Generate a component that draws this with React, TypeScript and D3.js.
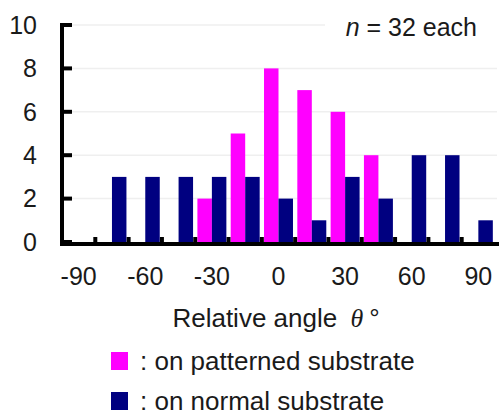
import * as d3 from 'd3';
import React from 'react';

// histogram of relative angle, 15 degree bins
const bins = [-90, -75, -60, -45, -30, -15, 0, 15, 30, 45, 60, 75, 90];
const patterned = [0, 0, 0, 0, 2, 5, 8, 7, 6, 4, 0, 0, 0];
const normal = [0, 3, 3, 3, 3, 3, 2, 1, 3, 2, 4, 4, 1];
const yTicks = [0, 2, 4, 6, 8, 10];
const xTickLabels = [-90, -60, -30, 0, 30, 60, 90];
const seriesKeys = ['patterned', 'normal'];
const seriesColors = ['#ff00ff', '#000080'];
const legendLabels = [': on patterned substrate', ': on normal substrate'];

export default function App() {
    const width = 500;
    const height = 416;
    const font = 'Arial, "Liberation Sans", sans-serif';
    const ink = '#1a1a1a';

    const x = d3.scaleBand<number>()
        .domain(bins)
        .range([62, 495])
        .paddingInner(0)
        .paddingOuter(0);

    const xInner = d3.scaleBand<string>()
        .domain(seriesKeys)
        .range([0, x.bandwidth()])
        .paddingInner(0)
        .paddingOuter(0.15);

    const y = d3.scaleLinear().domain([0, 10]).range([242, 25]);

    const values = [patterned, normal];
    const boundaries = bins.slice(1).map(b => (x(b) as number));

    return (
        <svg width={width} height={height} style={{ position: 'absolute', left: 0, top: 0, background: '#fff' }}>
            {/* faint grid */}
            {yTicks.filter(t => t > 0).map(t => (
                <line key={'g' + t} x1={64} x2={497} y1={y(t)} y2={y(t)} stroke="#efefef" strokeWidth={1.5} />
            ))}

            {/* bars */}
            {seriesKeys.map((k, si) => (
                <g key={k} fill={seriesColors[si]}>
                    {bins.map((b, i) => values[si][i] > 0 && (
                        <rect
                            key={b}
                            x={(x(b) as number) + (xInner(k) as number)}
                            y={y(values[si][i])}
                            width={xInner.bandwidth()}
                            height={y(0) - y(values[si][i])}
                        />
                    ))}
                </g>
            ))}

            {/* y axis */}
            <line x1={62} x2={62} y1={23} y2={246} stroke="#000" strokeWidth={4} />
            {yTicks.map(t => (
                <g key={'y' + t}>
                    <line x1={60} x2={72} y1={y(t)} y2={y(t)} stroke="#000" strokeWidth={4} />
                    <text x={37} y={y(t)} dy="0.35em" textAnchor="end" fontFamily={font} fontSize={25} fill={ink}>{t}</text>
                </g>
            ))}

            {/* x axis */}
            <line x1={60} x2={499} y1={244} y2={244} stroke="#000" strokeWidth={4} />
            {boundaries.map((bx, i) => (
                <line key={'t' + i} x1={bx} x2={bx} y1={237} y2={244} stroke="#000" strokeWidth={4} />
            ))}
            {xTickLabels.map(v => (
                <text key={'x' + v} x={(x(v) as number) + x.bandwidth() / 2} y={285} textAnchor="middle" fontFamily={font} fontSize={25} fill={ink}>{v}</text>
            ))}

            {/* axis title */}
            <text x={276} y={327} textAnchor="middle" fontFamily={font} fontSize={26} fill={ink}>
                Relative angle <tspan fontStyle="italic" fontFamily='"Times New Roman", "Liberation Serif", serif' dx={6}>θ</tspan>
                <tspan dx={6}>°</tspan>
            </text>

            {/* sample size note */}
            <rect x={325} y={12} width={175} height={30} fill="#fff" />
            <text x={477} y={36} textAnchor="end" fontFamily={font} fontSize={25} fill={ink}>
                <tspan fontStyle="italic">n</tspan> = 32 each
            </text>

            {/* legend */}
            {legendLabels.map((label, i) => (
                <g key={label} transform={`translate(0,${i * 40})`}>
                    <rect x={111} y={352} width={17} height={18} fill={seriesColors[i]} />
                    <text x={140} y={370} fontFamily={font} fontSize={26} fill={ink}>{label}</text>
                </g>
            ))}
        </svg>
    );
}
